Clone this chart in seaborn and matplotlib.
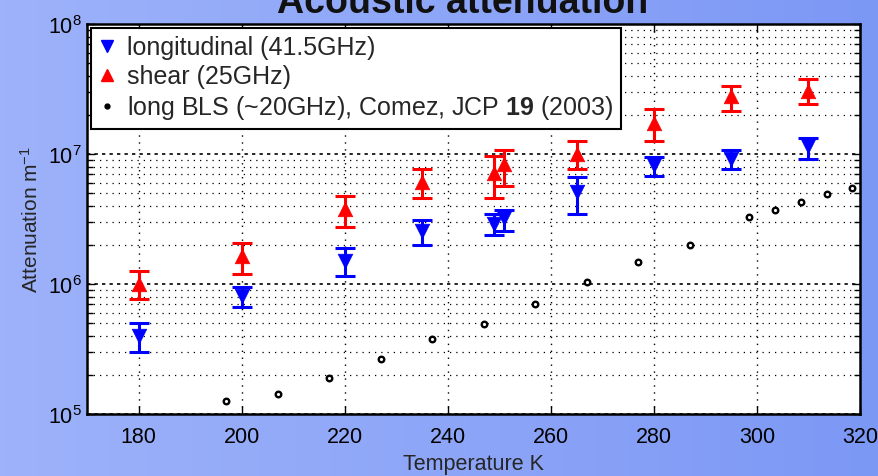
import numpy as np
import matplotlib
matplotlib.use("Agg")
import matplotlib.pyplot as plt
from matplotlib.lines import Line2D
from matplotlib.colors import LinearSegmentedColormap
import seaborn as sns

# ---------------- data ----------------
T_long = [180, 200, 220, 235, 249, 251, 265, 280, 295, 310]
att_long = [4.0e5, 8.1e5, 1.5e6, 2.55e6, 2.9e6, 3.2e6, 5.1e6, 8.2e6, 9.2e6, 1.16e7]
long_lo = [3.0e5, 6.6e5, 1.16e6, 2.0e6, 2.4e6, 2.57e6, 3.45e6, 6.8e6, 7.6e6, 9.2e6]
long_hi = [5.0e5, 9.4e5, 1.88e6, 3.1e6, 3.45e6, 3.73e6, 6.7e6, 9.5e6, 1.08e7, 1.33e7]

T_shear = [180, 200, 220, 235, 249, 251, 265, 280, 295, 310]
att_shear = [1.0e6, 1.65e6, 3.8e6, 6.1e6, 7.2e6, 8.4e6, 1.0e7, 1.72e7, 2.8e7, 3.07e7]
shear_lo = [7.6e5, 1.19e6, 2.76e6, 4.56e6, 4.56e6, 5.7e6, 7.6e6, 1.27e7, 2.15e7, 2.43e7]
shear_hi = [1.26e6, 2.07e6, 4.78e6, 7.67e6, 9.7e6, 1.07e7, 1.27e7, 2.22e7, 3.35e7, 3.78e7]

T_bls = [197, 207, 217, 227, 237, 247, 257, 267, 277, 287, 298.5, 303.5, 308.5, 313.5, 318.5]
att_bls = [1.27e5, 1.43e5, 1.89e5, 2.65e5, 3.78e5, 4.9e5, 7.0e5, 1.03e6, 1.47e6, 1.99e6,
           3.3e6, 3.73e6, 4.27e6, 4.93e6, 5.45e6]

x_ticks = [180, 200, 220, 240, 260, 280, 300, 320]
labels = ["longitudinal (41.5GHz)", "shear (25GHz)",
          r"long BLS (~20GHz), Comez, JCP $\mathbf{19}$ (2003)"]
title = "Acoustic attenuation"
xlabel = "Temperature K"
ylabel = r"Attenuation m$^{-1}$"

# ---------------- style ----------------
sns.set_style("ticks")
plt.rcParams["font.family"] = ["Liberation Sans", "DejaVu Sans"]
plt.rcParams["mathtext.fontset"] = "custom"
plt.rcParams["mathtext.rm"] = "Liberation Sans"
plt.rcParams["mathtext.it"] = "Liberation Sans:italic"
plt.rcParams["mathtext.bf"] = "Liberation Sans:bold"

W, H = 879, 477
fig = plt.figure(figsize=(W / 100, H / 100), dpi=100)

# gradient background
bg = fig.add_axes([0, 0, 1, 1], zorder=-10)
cmap = LinearSegmentedColormap.from_list("bg", ["#9db2fa", "#8ea6f8", "#7c98f5"])
grad = np.linspace(0, 1, 256)[None, :]
bg.imshow(grad, aspect="auto", cmap=cmap, extent=[0, 1, 0, 1])
bg.axis("off")

left, right, top, bottom = 87, 860, 25, 415
ax = fig.add_axes([left / W, 1 - bottom / H, (right - left) / W, (bottom - top) / H])
ax.set_facecolor("white")
ax.set_yscale("log")
ax.set_xlim(170, 320)
ax.set_ylim(1e5, 1e8)
ax.set_xticks(x_ticks)

# grid
ax.grid(True, which="major", axis="x", ls=(0, (1, 4)), color="black", lw=1.0)
ax.grid(True, which="major", axis="y", ls=(0, (2, 2.5)), color="black", lw=1.2)
ax.grid(True, which="minor", axis="y", ls=(0, (1, 4)), color="black", lw=0.9)
ax.set_axisbelow(True)

# error bars
def errs(c, lo, hi):
    c = np.array(c); return [c - np.array(lo), np.array(hi) - c]

ax.errorbar(T_long, att_long, yerr=errs(att_long, long_lo, long_hi), fmt="none",
            ecolor="#0000ff", elinewidth=2.2, capsize=7.5, capthick=2.2, zorder=3)
ax.errorbar(T_shear, att_shear, yerr=errs(att_shear, shear_lo, shear_hi), fmt="none",
            ecolor="#ff0000", elinewidth=2.2, capsize=7.5, capthick=2.2, zorder=3)

sns.scatterplot(x=T_long, y=att_long, ax=ax, marker="v", s=110, color="#0000ff",
                edgecolor="#0000ff", linewidth=0.5, zorder=4, legend=False)
sns.scatterplot(x=T_shear, y=att_shear, ax=ax, marker="^", s=110, color="#ff0000",
                edgecolor="#ff0000", linewidth=0.5, zorder=4, legend=False)
sns.scatterplot(x=T_bls, y=att_bls, ax=ax, marker="o", s=16, color="white",
                edgecolor="black", linewidth=1.7, zorder=4, legend=False)

# ticks & spines
ax.tick_params(which="both", direction="in", top=True, right=True, colors="black")
ax.tick_params(which="major", length=6, width=1, labelsize=15.5, pad=9)
ax.tick_params(which="minor", length=4, width=1)
ax.tick_params(axis="y", which="major", pad=4)
ax.minorticks_off()
ax.yaxis.set_minor_locator(matplotlib.ticker.LogLocator(base=10, subs=np.arange(2, 10)))
ax.yaxis.set_minor_formatter(matplotlib.ticker.NullFormatter())
for s in ax.spines.values():
    s.set_linewidth(1.8)
    s.set_color("black")

ax.set_xlabel(xlabel, fontsize=15.5, labelpad=4)
ax.set_ylabel(ylabel, fontsize=15, labelpad=4)

# legend
handles = [
    Line2D([], [], ls="none", marker="v", ms=9, color="#0000ff"),
    Line2D([], [], ls="none", marker="^", ms=9, color="#ff0000"),
    Line2D([], [], ls="none", marker="o", ms=3.5, color="black"),
]
leg = ax.legend(handles, labels, loc="upper left", bbox_to_anchor=(0.0, 1.0),
                borderaxespad=0.15, fontsize=18, frameon=True, fancybox=False,
                framealpha=1, edgecolor="black", handlelength=0.7,
                handletextpad=0.45, labelspacing=0.2, borderpad=0.3)
leg.get_frame().set_linewidth(1.5)

fig.text(0.526, 1 - 13 / H, title, ha="center", va="baseline", fontsize=27,
         fontweight="bold", color="#111111")

fig.savefig("out.png", dpi=100)
